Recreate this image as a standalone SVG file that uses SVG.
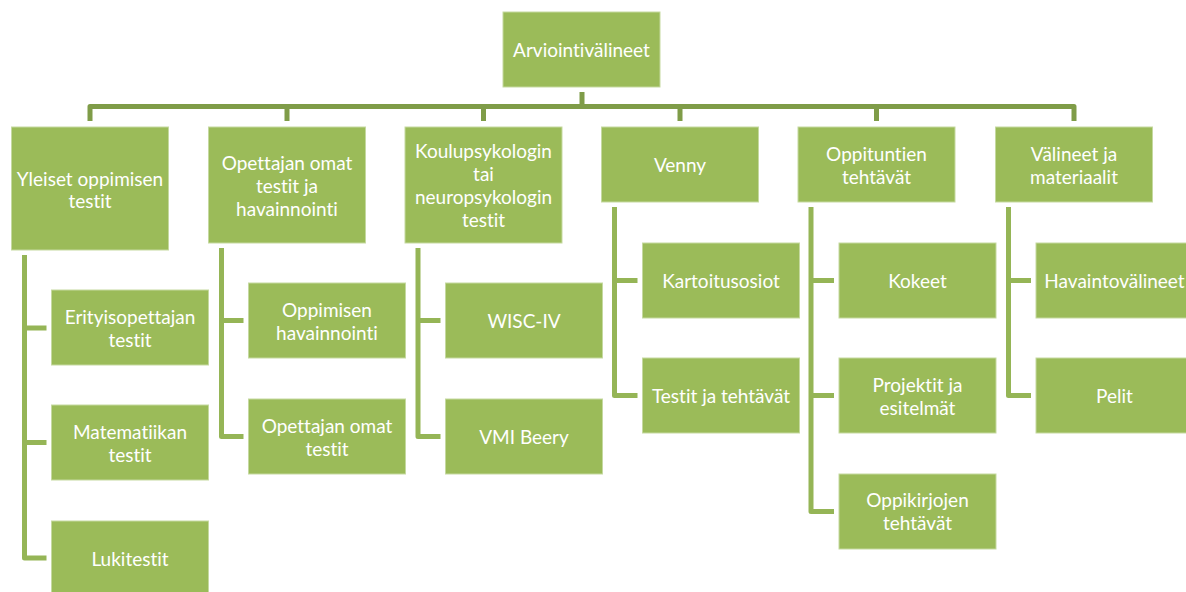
<svg xmlns="http://www.w3.org/2000/svg" width="1186" height="592" viewBox="0 0 1186 592">
<style>
.box{fill:#9bbb59;stroke:#c5d9a0;stroke-width:1}
.t{fill:#ffffff;font-family:Lato,"Liberation Sans",sans-serif;font-size:19px;text-anchor:middle;dominant-baseline:central;font-variant-ligatures:none}
.l1{fill:none;stroke:#7f9c48;stroke-width:5;stroke-linejoin:round}
.l2{fill:none;stroke:#95b556;stroke-width:5;stroke-linejoin:round}
</style>
<rect width="1186" height="592" fill="#ffffff"/>
<g id="connectors">
<path class="l1" d="M582 92V106.5M90 121V106.5H1074V121M287 106.5V121M483.5 106.5V121M680 106.5V121M876.5 106.5V121"/>
<path class="l2" d="M24.5 255V558H46.5M24.5 328H46.5M24.5 442.5H46.5"/>
<path class="l2" d="M221.5 248V436.5H243.5M221.5 320.5H243.5"/>
<path class="l2" d="M418 248V436.5H440.5M418 320.5H440.5"/>
<path class="l2" d="M614.5 207V395.5H637.5M614.5 280.5H637.5"/>
<path class="l2" d="M811 207V511.5H834M811 280.5H834M811 395.5H834"/>
<path class="l2" d="M1008.5 207V395.5H1031M1008.5 280.5H1031"/>
</g>
<g id="root"><rect class="box" x="503" y="12" width="157" height="75"/><text class="t" x="581.5" y="49">Arviointivälineet</text></g>
<g id="n-yleiset"><rect class="box" x="11.5" y="127" width="157" height="123"/><text class="t" x="90" y="178">Yleiset oppimisen</text><text class="t" x="90" y="200">testit</text></g>
<g id="n-opettajan"><rect class="box" x="208.5" y="127" width="157" height="116"/><text class="t" x="287" y="162">Opettajan omat</text><text class="t" x="287" y="185">testit ja</text><text class="t" x="287" y="208">havainnointi</text></g>
<g id="n-koulu"><rect class="box" x="405" y="127" width="157" height="116"/><text class="t" x="483.5" y="150">Koulupsykologin</text><text class="t" x="483.5" y="173">tai</text><text class="t" x="483.5" y="196">neuropsykologin</text><text class="t" x="483.5" y="219">testit</text></g>
<g id="n-venny"><rect class="box" x="601.5" y="127" width="157" height="75"/><text class="t" x="680" y="164">Venny</text></g>
<g id="n-oppituntien"><rect class="box" x="798" y="127" width="157" height="75"/><text class="t" x="876.5" y="153">Oppituntien</text><text class="t" x="876.5" y="176">tehtävät</text></g>
<g id="n-valineet"><rect class="box" x="995.5" y="127" width="157" height="75"/><text class="t" x="1074" y="153">Välineet ja</text><text class="t" x="1074" y="176">materiaalit</text></g>
<g id="n-erityis"><rect class="box" x="51.5" y="290" width="157" height="75"/><text class="t" x="130" y="316">Erityisopettajan</text><text class="t" x="130" y="339">testit</text></g>
<g id="n-matem"><rect class="box" x="51.5" y="405" width="157" height="75"/><text class="t" x="130" y="431">Matematiikan</text><text class="t" x="130" y="454">testit</text></g>
<g id="n-luki"><rect class="box" x="51.5" y="521" width="157" height="75"/><text class="t" x="130" y="558">Lukitestit</text></g>
<g id="n-oppimisen"><rect class="box" x="248.5" y="283" width="157" height="75"/><text class="t" x="327" y="309">Oppimisen</text><text class="t" x="327" y="332">havainnointi</text></g>
<g id="n-opomat"><rect class="box" x="248.5" y="399" width="157" height="75"/><text class="t" x="327" y="425">Opettajan omat</text><text class="t" x="327" y="448">testit</text></g>
<g id="n-wisc"><rect class="box" x="445.5" y="283" width="157" height="75"/><text class="t" x="524" y="320.5">WISC-IV</text></g>
<g id="n-vmi"><rect class="box" x="445.5" y="399" width="157" height="75"/><text class="t" x="524" y="436">VMI Beery</text></g>
<g id="n-kartoitus"><rect class="box" x="642.5" y="243" width="157" height="75"/><text class="t" x="721" y="280">Kartoitusosiot</text></g>
<g id="n-testit"><rect class="box" x="642.5" y="358" width="157" height="75"/><text class="t" x="721" y="395">Testit ja tehtävät</text></g>
<g id="n-kokeet"><rect class="box" x="839" y="243" width="157" height="75"/><text class="t" x="917.5" y="280">Kokeet</text></g>
<g id="n-projektit"><rect class="box" x="839" y="358" width="157" height="75"/><text class="t" x="917.5" y="384">Projektit ja</text><text class="t" x="917.5" y="407">esitelmät</text></g>
<g id="n-oppikirjat"><rect class="box" x="839" y="474" width="157" height="75"/><text class="t" x="917.5" y="499">Oppikirjojen</text><text class="t" x="917.5" y="522">tehtävät</text></g>
<g id="n-havainto"><rect class="box" x="1036" y="243" width="157" height="75"/><text class="t" x="1114.5" y="280">Havaintovälineet</text></g>
<g id="n-pelit"><rect class="box" x="1036" y="358" width="157" height="75"/><text class="t" x="1114.5" y="395">Pelit</text></g>
</svg>
